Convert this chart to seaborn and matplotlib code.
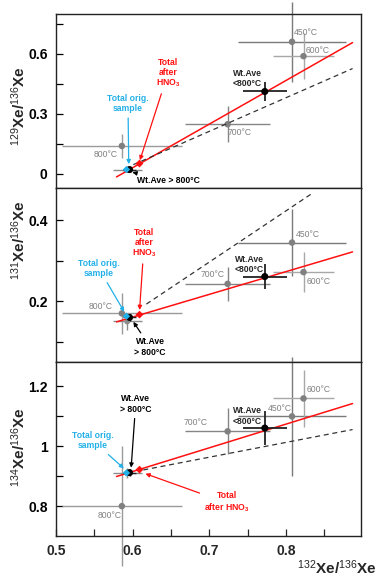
import pandas as pd
import seaborn as sns
import matplotlib.pyplot as plt
from matplotlib.ticker import FixedLocator, FixedFormatter

#%% Data (x = 132Xe/136Xe)
steps = ['450°C', '600°C', '700°C', '800°C']
step_x = [0.808, 0.823, 0.724, 0.586]
step_xerr = [0.070, 0.040, 0.055, 0.078]
step_y129 = [0.660, 0.588, 0.247, 0.138]
step_y129_err = [0.200, 0.115, 0.090, 0.060]
step_y131 = [0.345, 0.272, 0.243, 0.170]
step_y131_err = [0.083, 0.050, 0.042, 0.050]
step_y134 = [1.100, 1.160, 1.050, 0.800]
step_y134_err = [0.200, 0.095, 0.077, 0.200]

# unlabeled steps > 800°C
hi_x = [0.593]
hi_xerr = [0.019]
hi_y = [0.018, 0.150, 0.910]
hi_yerr = [0.010, 0.020, 0.016]

# weighted averages
wlo_x, wlo_xerr = 0.7725, 0.029
wlo_y = [0.411, 0.261, 1.061]
wlo_yerr = [0.047, 0.030, 0.057]
whi_x, whi_xerr = 0.596, 0.008
whi_y = [0.020, 0.160, 0.912]
whi_yerr = [0.010, 0.008, 0.012]

# totals
orig_x = 0.592
orig_y = [0.020, 0.163, 0.911]
hno3_x = 0.609
hno3_y = [0.050, 0.167, 0.922]

# correlation lines
red_x = [0.579, 0.887]
red_y = [[-0.017, 0.656], [0.149, 0.322], [0.899, 1.143]]
dash_x = [[0.601, 0.887], [0.618, 0.8355], [0.614, 0.887]]
dash_y = [[0.0445, 0.526], [0.193, 0.468], [0.921, 1.056]]

step_y = [step_y129, step_y131, step_y134]
step_yerr = [step_y129_err, step_y131_err, step_y134_err]
ylabels = [r'$^{129}$Xe/$^{136}$Xe', r'$^{131}$Xe/$^{136}$Xe', r'$^{134}$Xe/$^{136}$Xe']
ylims = [(-0.072, 0.80), (0.05, 0.48), (0.70, 1.282)]
yticks = [[0, 0.15, 0.3, 0.45, 0.6, 0.75], [0.1, 0.2, 0.3, 0.4], [0.8, 0.9, 1.0, 1.1, 1.2]]
yticklabels = [['0', '', '0.3', '', '0.6', ''], ['', '0.2', '', '0.4'], ['0.8', '', '1', '', '1.2']]
ylabel_pos = [0.47, 0.70, 0.51]

step_colors = ['#7a7a7a', '#a8a8a8', '#858585', '#9a9a9a']
CYAN = '#22b0e8'
RED = '#ff1010'

#%% Style
sns.set_theme(style='ticks')
plt.rcParams['font.family'] = ['Liberation Sans', 'DejaVu Sans']
plt.rcParams['mathtext.fontset'] = 'custom'
plt.rcParams['mathtext.rm'] = 'Liberation Sans'
plt.rcParams['mathtext.it'] = 'Liberation Sans:italic'
plt.rcParams['mathtext.bf'] = 'Liberation Sans:bold'

fig, axes = plt.subplots(3, 1, sharex=True, figsize=(3.78, 5.77), dpi=100)
plt.subplots_adjust(left=0.148, right=0.955, top=0.976, bottom=0.071, hspace=0)


def ebar(ax, x, y, xerr, yerr, color, lw=1.0, zorder=2):
    eb = ax.errorbar(x, y, xerr=xerr, yerr=yerr, fmt='none', ecolor=color,
                     elinewidth=lw, capsize=0, zorder=zorder)
    for art in eb.get_children():
        art.set_clip_on(False)


lab = dict(fontsize=6.2, fontweight='bold')
gl = dict(fontsize=6.2, color='#808080')

for i, ax in enumerate(axes):
    # temperature steps
    for j in range(len(steps)):
        ebar(ax, step_x[j], step_y[i][j], step_xerr[j], step_yerr[i][j], step_colors[j])
    ebar(ax, hi_x, [hi_y[i]], hi_xerr, [hi_yerr[i]], '#8c8c8c')
    sns.scatterplot(x=step_x, y=step_y[i], ax=ax, color='#808080', s=22,
                    edgecolor='none', zorder=3, legend=False)
    sns.scatterplot(x=hi_x, y=[hi_y[i]], ax=ax, color='#8c8c8c', s=18,
                    edgecolor='none', zorder=3, legend=False)

    # correlation lines
    sns.lineplot(x=red_x, y=red_y[i], ax=ax, color=RED, lw=1.1, zorder=4)
    sns.lineplot(x=dash_x[i], y=dash_y[i], ax=ax, color='#333333', lw=0.9,
                 linestyle=(0, (4, 3)), zorder=4)

    # weighted averages and totals
    ebar(ax, [wlo_x], [wlo_y[i]], [wlo_xerr], [wlo_yerr[i]], '#222222', lw=1.3, zorder=5)
    ebar(ax, [whi_x], [whi_y[i]], [whi_xerr], [whi_yerr[i]], '#222222', lw=1.0, zorder=5)
    sns.scatterplot(x=[wlo_x, whi_x], y=[wlo_y[i], whi_y[i]], ax=ax, color='black',
                    s=26, edgecolor='none', zorder=6, legend=False)
    sns.scatterplot(x=[orig_x], y=[orig_y[i]], ax=ax, color=CYAN, marker='D', s=14,
                    edgecolor='none', zorder=7, legend=False)
    sns.scatterplot(x=[hno3_x], y=[hno3_y[i]], ax=ax, color=RED, marker='D', s=16,
                    edgecolor='none', zorder=7, legend=False)

    ax.set_ylim(*ylims[i])
    ax.yaxis.set_major_locator(FixedLocator(yticks[i]))
    ax.yaxis.set_major_formatter(FixedFormatter(yticklabels[i]))
    ax.set_ylabel(ylabels[i], fontsize=11, fontweight='bold')
    ax.yaxis.set_label_coords(-0.092, ylabel_pos[i])
    ax.tick_params(axis='y', direction='in', length=5, width=0.9, pad=6,
                   labelsize=10, colors='black')
    for t in ax.get_yticklabels():
        t.set_fontweight('bold')
    for s in ax.spines.values():
        s.set_linewidth(1.0)
        s.set_color('#222222')

axes[0].set_xlim(0.5, 0.898)
xt = [0.5, 0.55, 0.6, 0.65, 0.7, 0.75, 0.8, 0.85]
axes[2].xaxis.set_major_locator(FixedLocator(xt))
axes[2].xaxis.set_major_formatter(FixedFormatter(['0.5', '', '0.6', '', '0.7', '', '0.8', '']))
axes[2].tick_params(axis='x', direction='in', length=5, width=0.9, pad=6, labelsize=10)
for t in axes[2].get_xticklabels():
    t.set_fontweight('bold')
for ax in axes[:2]:
    ax.tick_params(axis='x', length=0)

fig.text(0.998, 0.016, r'$^{132}$Xe/$^{136}$Xe', ha='right', va='center',
         fontsize=11, fontweight='bold')

#%% Annotations
arrow = lambda c: dict(arrowstyle='-|>', color=c, lw=0.9, mutation_scale=6,
                       shrinkA=1, shrinkB=1)
hno3_txt = 'Total\nafter\nHNO$_\\mathbf{3}$'

# panel 1
a = axes[0]
a.annotate(hno3_txt, xy=(hno3_x, hno3_y[0] + 0.01), xytext=(0.646, 0.50), ha='center',
           va='center', color=RED, arrowprops=arrow(RED), linespacing=1.1, **lab)
a.annotate('Total orig.\nsample', xy=(orig_x + 0.003, orig_y[0] + 0.02), xytext=(0.594, 0.35),
           ha='center', va='center', color=CYAN, arrowprops=arrow(CYAN), **lab)
a.annotate('Wt.Ave > 800°C', xy=(whi_x + 0.002, whi_y[0] - 0.012), xytext=(0.606, -0.036),
           ha='left', va='center', color='black', arrowprops=arrow('black'), **lab)
a.text(0.750, 0.475, 'Wt.Ave\n<800°C', ha='center', va='center', **lab)
a.text(0.810, 0.705, '450°C', ha='left', va='center', **gl)
a.text(0.826, 0.618, '600°C', ha='left', va='center', **gl)
a.text(0.724, 0.204, '700°C', ha='left', va='center', **gl)
a.text(0.581, 0.097, '800°C', ha='right', va='center', **gl)

# panel 2
a = axes[1]
a.annotate(hno3_txt, xy=(hno3_x, hno3_y[1] + 0.008), xytext=(0.615, 0.342), ha='center',
           va='center', color=RED, arrowprops=arrow(RED), linespacing=1.1, **lab)
a.annotate('Total orig.\nsample', xy=(orig_x - 0.002, orig_y[1] + 0.008), xytext=(0.556, 0.281),
           ha='center', va='center', color=CYAN, arrowprops=arrow(CYAN), **lab)
a.annotate('Wt.Ave\n> 800°C', xy=(whi_x + 0.004, whi_y[1] - 0.008), xytext=(0.623, 0.087),
           ha='center', va='center', color='black', arrowprops=arrow('black'), **lab)
a.text(0.752, 0.291, 'Wt.Ave\n<800°C', ha='center', va='center', **lab)
a.text(0.813, 0.366, '450°C', ha='left', va='center', **gl)
a.text(0.827, 0.250, '600°C', ha='left', va='center', **gl)
a.text(0.689, 0.265, '700°C', ha='left', va='center', **gl)
a.text(0.542, 0.188, '800°C', ha='left', va='center', **gl)

# panel 3
a = axes[2]
a.annotate('Wt.Ave\n> 800°C', xy=(whi_x + 0.002, whi_y[2] + 0.012), xytext=(0.604, 1.141),
           ha='center', va='center', color='black', arrowprops=arrow('black'), **lab)
a.annotate('Total orig.\nsample', xy=(orig_x - 0.002, orig_y[2] + 0.012), xytext=(0.548, 1.019),
           ha='center', va='center', color=CYAN, arrowprops=arrow(CYAN), **lab)
a.annotate('Total\nafter HNO$_\\mathbf{3}$', xy=(hno3_x + 0.006, hno3_y[2] - 0.012),
           xytext=(0.723, 0.811), ha='center', va='center', color=RED,
           arrowprops=arrow(RED), **lab)
a.text(0.750, 1.101, 'Wt.Ave\n<800°C', ha='center', va='center', **lab)
a.text(0.827, 1.189, '600°C', ha='left', va='center', **gl)
a.text(0.776, 1.126, '450°C', ha='left', va='center', **gl)
a.text(0.666, 1.079, '700°C', ha='left', va='center', **gl)
a.text(0.555, 0.769, '800°C', ha='left', va='center', **gl)

plt.savefig('out.png', dpi=100)
